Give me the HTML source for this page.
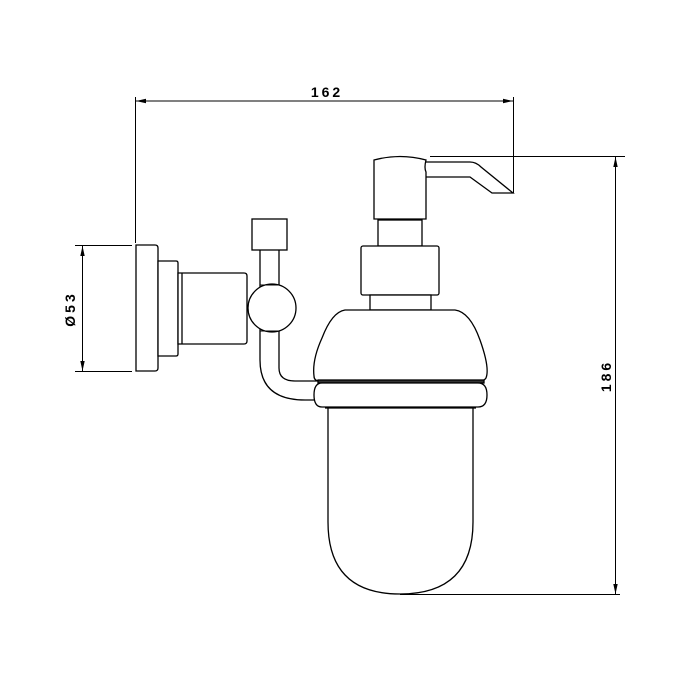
<!DOCTYPE html>
<html><head><style>html,body{margin:0;padding:0;background:#fff}svg{display:block}</style></head><body>
<svg width="700" height="700" viewBox="0 0 700 700" xmlns="http://www.w3.org/2000/svg">
<defs><marker id="a" markerWidth="10" markerHeight="6" refX="10" refY="3" orient="auto-start-reverse" markerUnits="userSpaceOnUse"><path d="M0,0.8 L10,3 L0,5.2 Z" fill="#000"/></marker></defs>
<g fill="none" stroke="#000" stroke-width="1">
<line x1="135.5" y1="97" x2="135.5" y2="243"/>
<line x1="513.5" y1="97" x2="513.5" y2="193"/>
<line x1="136" y1="101" x2="513" y2="101" marker-start="url(#a)" marker-end="url(#a)"/>
<line x1="430" y1="156.5" x2="625" y2="156.5"/>
<line x1="400" y1="594.5" x2="620" y2="594.5"/>
<line x1="615.5" y1="157" x2="615.5" y2="594" marker-start="url(#a)" marker-end="url(#a)"/>
<line x1="75" y1="245.5" x2="132" y2="245.5"/>
<line x1="75" y1="371.5" x2="132" y2="371.5"/>
<line x1="82.5" y1="246" x2="82.5" y2="371" marker-start="url(#a)" marker-end="url(#a)"/>
</g>
<g fill="#fff" stroke="#000" stroke-width="1.3">
<path d="M136,245 H155 Q158,245 158,248 V368 Q158,371 155,371 H136 Z"/>
<path d="M158,261 H176 Q178,261 178,263 V354 Q178,356 176,356 H158 Z"/>
<path d="M178,273 H244 Q247,273 247,276 V341 Q247,344 244,344 H178 Z"/>
<line x1="182" y1="273" x2="182" y2="344"/>
<rect x="252" y="219" width="35" height="31"/>
<path d="M260,250 V290 M279,250 V290"/>
<path d="M260,325 V360 Q260,400 305,400 H322 M279,325 V368 Q279,381 295,381 H322"/>
<circle cx="272" cy="308" r="24"/>
<path d="M260,285 H280 M260,331 H280" stroke-width="1"/>
<path d="M426,162 H470 Q476,162 481,167 L513,193 H492 L470,177 H426"/>
<path d="M374,160 Q400,153 426,160 Q424,168 426,172 V219 H374 Z"/>
<rect x="378" y="220" width="44" height="26"/>
<rect x="361" y="246" width="78" height="49" rx="2"/>
<rect x="370" y="295" width="61" height="15"/>
<path d="M345,310 H455 Q470,312 480,340 Q490,368 486,378 Q484,381 480,381 H320 Q314,381 314,376 Q312,360 322,338 Q332,312 345,310 Z"/>
<rect x="318" y="380" width="166" height="3" fill="#333"/>
<path d="M322,383 H478 Q487,383 487,395 Q487,407 478,407 H322 Q314,407 314,395 Q314,383 322,383 Z"/>
<path d="M328,408 V522 Q328,594 400,594 Q473,594 473,522 V408"/>
<line x1="325" y1="408" x2="476" y2="408"/>
</g>
<g font-family="Liberation Sans, sans-serif" font-weight="bold" font-size="14" fill="#000" letter-spacing="3">
<text x="327" y="97" text-anchor="middle">162</text>
<text transform="translate(611,376) rotate(-90)" text-anchor="middle">186</text>
<text transform="translate(75,309) rotate(-90)" text-anchor="middle">Ø53</text>
</g>
</svg>
</body></html>
